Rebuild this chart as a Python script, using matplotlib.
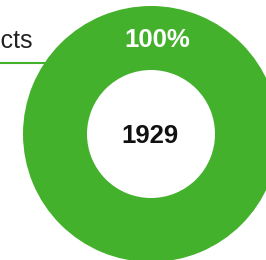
import matplotlib
matplotlib.use("Agg")
import matplotlib.pyplot as plt

categories = ["Products"]
values = [1929]
percent_labels = ["100%"]
center_label = "1929"
colors = ["#44b12c"]

W, H = 266, 260
fig = plt.figure(figsize=(W / 100, H / 100), dpi=100)
ax = fig.add_axes([0, 0, 1, 1])

cx, cy, R = 151, 134, 128
ax.pie(values, colors=colors, center=(cx, cy), radius=R, startangle=90,
       counterclock=False, wedgeprops=dict(width=R * 0.5, linewidth=0))
ax.set_xlim(0, W)
ax.set_ylim(H, 0)
ax.set_aspect("equal")
ax.axis("off")

font = "Liberation Sans"
# connector line and category label
ax.plot([-20, 45], [62.5, 62.5], color=colors[0], lw=1.5, solid_capstyle="butt")
ax.text(32, 48, categories[0], ha="right", va="baseline", fontsize=18,
        color="#222222", family=font)
# percentage label in ring
ax.text(157.5, 47, percent_labels[0], ha="center", va="baseline", fontsize=18.5,
        fontweight="bold", color="white", family=font)
# centre total
ax.text(150, 143, center_label, ha="center", va="baseline", fontsize=18.5,
        fontweight="bold", color="#111111", family=font)

fig.savefig("out.png", dpi=100)
